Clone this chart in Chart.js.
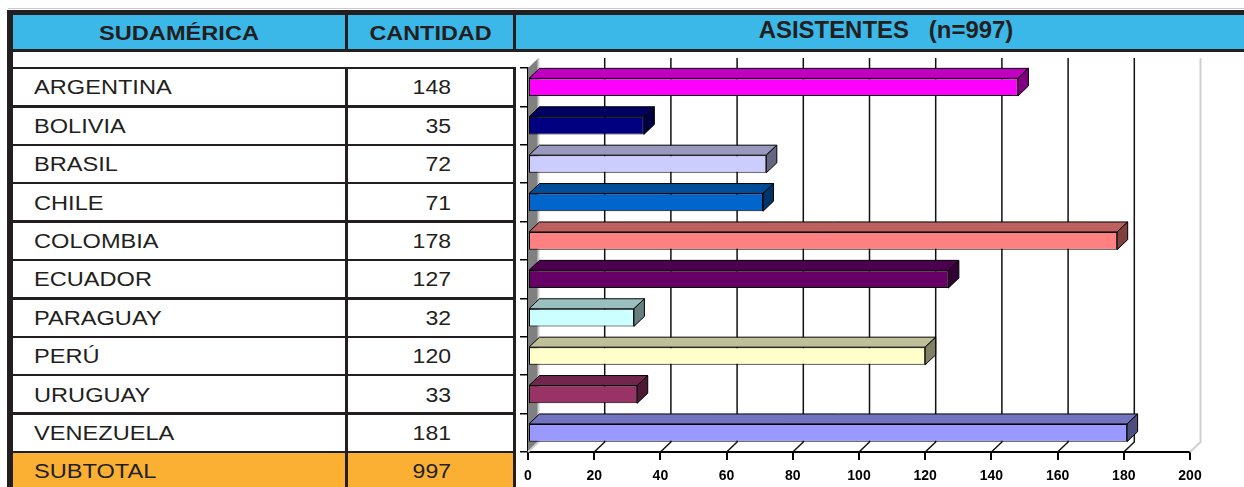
<!DOCTYPE html>
<html lang="es">
<head>
<meta charset="utf-8">
<title>Asistentes Sudamérica</title>
<script src="https://cdn.jsdelivr.net/npm/chart.js@4.4.1/dist/chart.umd.min.js"></script>
<style>
  body { margin: 0; width: 1244px; height: 487px; overflow: hidden; background: #fff;
         position: relative; font-family: 'Liberation Sans', Arial, sans-serif; color: #231f20; }
  .b { position: absolute; background: #231f20; }
  .txt { position: absolute; white-space: pre; font-size: 20px; line-height: 20px; height: 20px; }
  #contGrafico { position: absolute; left: 515px; top: 52px; width: 729px; height: 435px; }
</style>
</head>
<body>
<div id="tabla"></div>
<div id="contGrafico"><canvas id="graficoAsistentes"></canvas></div>
<script>
// ==================== DATOS ====================
const paises = ["ARGENTINA", "BOLIVIA", "BRASIL", "CHILE", "COLOMBIA", "ECUADOR", "PARAGUAY", "PERÚ", "URUGUAY", "VENEZUELA"];
const cantidades = [148, 35, 72, 71, 178, 127, 32, 120, 33, 181];
const colores = ["#FF00FF", "#000080", "#CCCCFF", "#0066CC", "#FF8080", "#660066", "#CCFFFF", "#FFFFCC", "#993366", "#9999FF"];
const encabezados = ["SUDAMÉRICA", "CANTIDAD", "ASISTENTES   (n=997)"];
const filaTotal = ["SUBTOTAL", "997"];
const ejeMin = 0, ejeMax = 200, ejePaso = 20;

// geometria de la tabla (coincide con el area del grafico)
const Y0 = 68, PASO = 38.4;
const prof = { dx: 10.5, dy: 10 };

// ==================== TABLA ====================
function caja(left, top, width, height, color) {
  const d = document.createElement("div");
  d.className = "b";
  d.style.cssText = `left:${left}px;top:${top}px;width:${width}px;height:${height}px;` + (color ? `background:${color};` : "");
  document.getElementById("tabla").appendChild(d);
  return d;
}

function texto(str, left, width, centroY, align, bold, escala, size) {
  const d = document.createElement("div");
  d.className = "txt";
  const fs = size || 20;
  d.style.cssText = `left:${left}px;width:${width}px;top:${centroY - fs * 0.49}px;text-align:${align};` +
    `font-size:${fs}px;line-height:${fs}px;height:${fs}px;font-weight:${bold ? "bold" : "normal"};` +
    `transform:scaleX(${escala});transform-origin:${align === "left" ? "left" : (align === "right" ? "right" : "center")};`;
  d.textContent = str;
  document.getElementById("tabla").appendChild(d);
}

function armarTabla() {
  caja(8, 8, 1236, 1, "#c9c9c9");
  caja(7, 10, 1237, 5);
  caja(13, 15, 1231, 34, "#3bb7e8");
  caja(7, 49, 1237, 3);
  caja(7, 10, 6, 477);
  caja(345, 15, 3, 34);
  caja(513, 15, 3, 34);

  // fila subtotal
  caja(13, Y0 + 10 * PASO, 500, 60, "#fbb034");

  for (let i = 0; i <= 10; i++) {
    caja(13, Y0 + i * PASO - 1.25, 503, 2.5);
  }
  caja(345, Y0 - 1, 3, 430);
  caja(513, Y0 - 1, 3, 430);

  texto(encabezados[0], 13, 332, 33, "center", true, 1.18);
  texto(encabezados[1], 348, 165, 33, "center", true, 1.17);
  texto(encabezados[2], 746, 280, 30, "center", true, 1.04, 23);

  paises.forEach((p, i) => {
    const cy = Y0 + (i + 0.5) * PASO;
    texto(p, 34, 300, cy, "left", false, 1.18);
    texto(String(cantidades[i]), 0, 451, cy, "right", false, 1.15);
  });
  const cyT = Y0 + 10.5 * PASO;
  texto(filaTotal[0], 34, 300, cyT, "left", false, 1.18);
  texto(filaTotal[1], 0, 451, cyT, "right", false, 1.15);
}

// ==================== EFECTO 3D ====================
function sombra(hex, f) {
  const n = parseInt(hex.slice(1), 16);
  const r = Math.round(((n >> 16) & 255) * f);
  const g = Math.round(((n >> 8) & 255) * f);
  const b = Math.round((n & 255) * f);
  return `rgb(${r},${g},${b})`;
}

const efecto3D = {
  id: "efecto3D",
  beforeDatasetsDraw(chart) {
    const { ctx, chartArea: a, scales: { x } } = chart;
    const { dx, dy } = prof;
    ctx.save();
    // pared izquierda
    ctx.fillStyle = "#808080";
    ctx.beginPath();
    ctx.moveTo(a.left, a.top);
    ctx.lineTo(a.left + dx, a.top - dy);
    ctx.lineTo(a.left + dx, a.bottom - dy);
    ctx.lineTo(a.left, a.bottom);
    ctx.closePath();
    ctx.fill();
    // rejilla del fondo y del piso
    x.ticks.forEach(t => {
      const px = x.getPixelForValue(t.value);
      const borde = t.value === ejeMin || t.value === ejeMax;
      ctx.strokeStyle = borde ? "#cfcfcf" : "#111";
      ctx.lineWidth = borde ? 2 : 1.5;
      ctx.beginPath();
      ctx.moveTo(px + dx, a.top - dy);
      ctx.lineTo(px + dx, a.bottom - dy);
      ctx.lineTo(px, a.bottom);
      ctx.stroke();
    });
    ctx.restore();
  },
  afterDatasetsDraw(chart) {
    const { ctx } = chart;
    const { dx, dy } = prof;
    chart.getDatasetMeta(0).data.forEach((barra, i) => {
      const { x, y, base, height } = barra.getProps(["x", "y", "base", "height"], true);
      const arriba = y - height / 2, abajo = y + height / 2;
      ctx.save();
      ctx.strokeStyle = "#000";
      ctx.lineWidth = 1;
      ctx.lineJoin = "round";
      // cara superior
      ctx.fillStyle = sombra(colores[i], 0.75);
      ctx.beginPath();
      ctx.moveTo(base, arriba);
      ctx.lineTo(base + dx, arriba - dy);
      ctx.lineTo(x + dx, arriba - dy);
      ctx.lineTo(x, arriba);
      ctx.closePath();
      ctx.fill();
      ctx.stroke();
      // cara lateral
      ctx.fillStyle = sombra(colores[i], 0.5);
      ctx.beginPath();
      ctx.moveTo(x, arriba);
      ctx.lineTo(x + dx, arriba - dy);
      ctx.lineTo(x + dx, abajo - dy);
      ctx.lineTo(x, abajo);
      ctx.closePath();
      ctx.fill();
      ctx.stroke();
      ctx.restore();
    });
  }
};

// ==================== GRAFICO ====================
function dibujarGrafico() {
  const ctx = document.getElementById("graficoAsistentes").getContext("2d");
  new Chart(ctx, {
    type: "bar",
    data: {
      labels: paises,
      datasets: [{
        data: cantidades,
        backgroundColor: colores,
        borderColor: "#000",
        borderWidth: 1,
        borderSkipped: false,
        categoryPercentage: 1,
        barPercentage: 0.46
      }]
    },
    options: {
      indexAxis: "y",
      responsive: true,
      maintainAspectRatio: false,
      animation: false,
      layout: { padding: { left: 5, right: 54, top: 16, bottom: 0 } },
      plugins: { legend: { display: false }, tooltip: { enabled: false } },
      scales: {
        x: {
          min: ejeMin, max: ejeMax, z: 1,
          ticks: { stepSize: ejePaso, padding: 8, color: "#000", font: { family: "Liberation Sans", weight: "bold", size: 14 } },
          grid: { drawOnChartArea: false, tickLength: 8, color: "#000", lineWidth: 2 },
          border: { display: true, color: "#000", width: 2 },
          afterFit(s) { s.height = 35; }
        },
        y: {
          z: 1,
          ticks: { display: false },
          grid: { drawOnChartArea: false, offset: true, tickLength: 8, color: "#000", lineWidth: 1.5 },
          border: { display: true, color: "#000", width: 1.5 },
          afterFit(s) { s.width = 8; }
        }
      }
    },
    plugins: [efecto3D]
  });
}

document.addEventListener("DOMContentLoaded", () => {
  armarTabla();
  dibujarGrafico();
});
</script>
</body>
</html>
